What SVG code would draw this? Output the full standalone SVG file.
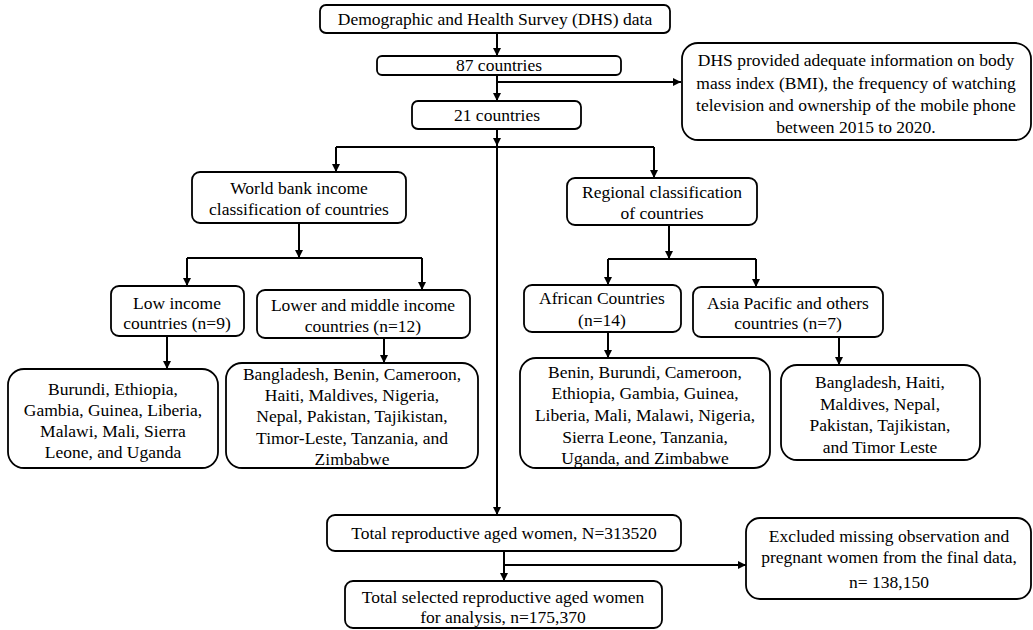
<svg xmlns="http://www.w3.org/2000/svg" width="1033" height="630" viewBox="0 0 1033 630">
<defs>
<marker id="ah" markerUnits="userSpaceOnUse" markerWidth="9" markerHeight="9" refX="8" refY="4" orient="auto">
<path d="M0,0 L8,4 L0,8 z" fill="#000"/>
</marker>
<style>
.box{fill:#fff;stroke:#000;stroke-width:1.8}
.t{font-family:'Liberation Serif','Times New Roman','DejaVu Serif',serif;font-size:17.5px;fill:#000;text-anchor:middle}
.c{fill:none;stroke:#000;stroke-width:2}
.a{fill:none;stroke:#000;stroke-width:2;marker-end:url(#ah)}
</style>
</defs>
<rect width="1033" height="630" fill="#fff"/>
<g id="connectors">
<path class="a" d="M497,33 V56"/>
<path class="a" d="M497,75 V101"/>
<path class="a" d="M497,82 H681"/>
<path class="a" d="M497,129 V146"/>
<path class="a" d="M497,129 V515"/>
<path class="c" d="M336,147 H654"/>
<path class="a" d="M336,147 V172"/>
<path class="a" d="M654,147 V178"/>
<path class="a" d="M299,223 V258"/>
<path class="c" d="M187,258 H422"/>
<path class="a" d="M187,258 V286"/>
<path class="a" d="M422,258 V290"/>
<path class="a" d="M167,336 V369"/>
<path class="a" d="M384,338 V363"/>
<path class="a" d="M669,225 V259"/>
<path class="c" d="M608,259 H756"/>
<path class="a" d="M608,259 V285"/>
<path class="a" d="M756,259 V287"/>
<path class="a" d="M608,332 V358"/>
<path class="a" d="M839,337 V365"/>
<path class="a" d="M504,551 V581"/>
<path class="a" d="M504,565 H746"/>
</g>
<g font-family="Liberation Serif, Times New Roman, DejaVu Serif, serif">
<g id="n1"><rect class="box" x="320" y="5" width="350" height="28" rx="6"/><text class="t" x="495" y="25">Demographic and Health Survey (DHS) data</text></g>
<g id="n2"><rect class="box" x="377" y="56" width="244" height="19" rx="5"/><text class="t" x="499" y="71">87 countries</text></g>
<g id="n3"><rect class="box" x="682" y="43" width="349" height="97" rx="16"/>
<text class="t" x="856" y="66">DHS provided adequate information on body</text>
<text class="t" x="856" y="89">mass index (BMI), the frequency of watching</text>
<text class="t" x="856" y="111">television and ownership of the mobile phone</text>
<text class="t" x="856" y="133">between 2015 to 2020.</text></g>
<g id="n4"><rect class="box" x="412" y="101" width="169" height="28" rx="6"/><text class="t" x="497" y="121">21 countries</text></g>
<g id="n5"><rect class="box" x="192" y="172" width="214" height="51" rx="8"/>
<text class="t" x="299" y="194">World bank income</text>
<text class="t" x="299" y="215">classification of countries</text></g>
<g id="n6"><rect class="box" x="567" y="178" width="190" height="47" rx="8"/>
<text class="t" x="662" y="198">Regional classification</text>
<text class="t" x="662" y="219">of countries</text></g>
<g id="n7"><rect class="box" x="111" y="286" width="133" height="50" rx="8"/>
<text class="t" x="177" y="309">Low income</text>
<text class="t" x="177" y="329">countries (n=9)</text></g>
<g id="n8"><rect class="box" x="257" y="290" width="213" height="48" rx="8"/>
<text class="t" x="363" y="311">Lower and middle income</text>
<text class="t" x="363" y="332">countries (n=12)</text></g>
<g id="n9"><rect class="box" x="524" y="285" width="157" height="47" rx="8"/>
<text class="t" x="602" y="304">African Countries</text>
<text class="t" x="602" y="326">(n=14)</text></g>
<g id="n10"><rect class="box" x="693" y="287" width="190" height="50" rx="8"/>
<text class="t" x="788" y="309">Asia Pacific and others</text>
<text class="t" x="788" y="329">countries (n=7)</text></g>
<g id="n11"><rect class="box" x="8" y="369" width="210" height="99" rx="16"/>
<text class="t" x="113" y="395">Burundi, Ethiopia,</text>
<text class="t" x="113" y="416">Gambia, Guinea, Liberia,</text>
<text class="t" x="113" y="437">Malawi, Mali, Sierra</text>
<text class="t" x="113" y="458">Leone, and Uganda</text></g>
<g id="n12"><rect class="box" x="226" y="363" width="252" height="105" rx="16"/>
<text class="t" x="352" y="380">Bangladesh, Benin, Cameroon,</text>
<text class="t" x="352" y="401">Haiti, Maldives, Nigeria,</text>
<text class="t" x="352" y="422">Nepal, Pakistan, Tajikistan,</text>
<text class="t" x="352" y="444">Timor-Leste, Tanzania, and</text>
<text class="t" x="352" y="465">Zimbabwe</text></g>
<g id="n13"><rect class="box" x="520" y="358" width="250" height="110" rx="16"/>
<text class="t" x="645" y="378">Benin, Burundi, Cameroon,</text>
<text class="t" x="645" y="399">Ethiopia, Gambia, Guinea,</text>
<text class="t" x="645" y="421">Liberia, Mali, Malawi, Nigeria,</text>
<text class="t" x="645" y="443">Sierra Leone, Tanzania,</text>
<text class="t" x="645" y="464">Uganda, and Zimbabwe</text></g>
<g id="n14"><rect class="box" x="781" y="365" width="199" height="95" rx="16"/>
<text class="t" x="880" y="388">Bangladesh, Haiti,</text>
<text class="t" x="880" y="410">Maldives, Nepal,</text>
<text class="t" x="880" y="431">Pakistan, Tajikistan,</text>
<text class="t" x="880" y="453">and Timor Leste</text></g>
<g id="n15"><rect class="box" x="327" y="515" width="354" height="36" rx="8"/>
<text class="t" x="504" y="539">Total reproductive aged women, N=313520</text></g>
<g id="n16"><rect class="box" x="345" y="581" width="317" height="47" rx="8"/>
<text class="t" x="503" y="603">Total selected reproductive aged women</text>
<text class="t" x="503" y="623">for analysis, n=175,370</text></g>
<g id="n17"><rect class="box" x="746" y="518" width="285" height="81" rx="14"/>
<text class="t" x="889" y="542">Excluded missing observation and</text>
<text class="t" x="889" y="563">pregnant women from the final data,</text>
<text class="t" x="889" y="588">n= 138,150</text></g>
</g>
</svg>
